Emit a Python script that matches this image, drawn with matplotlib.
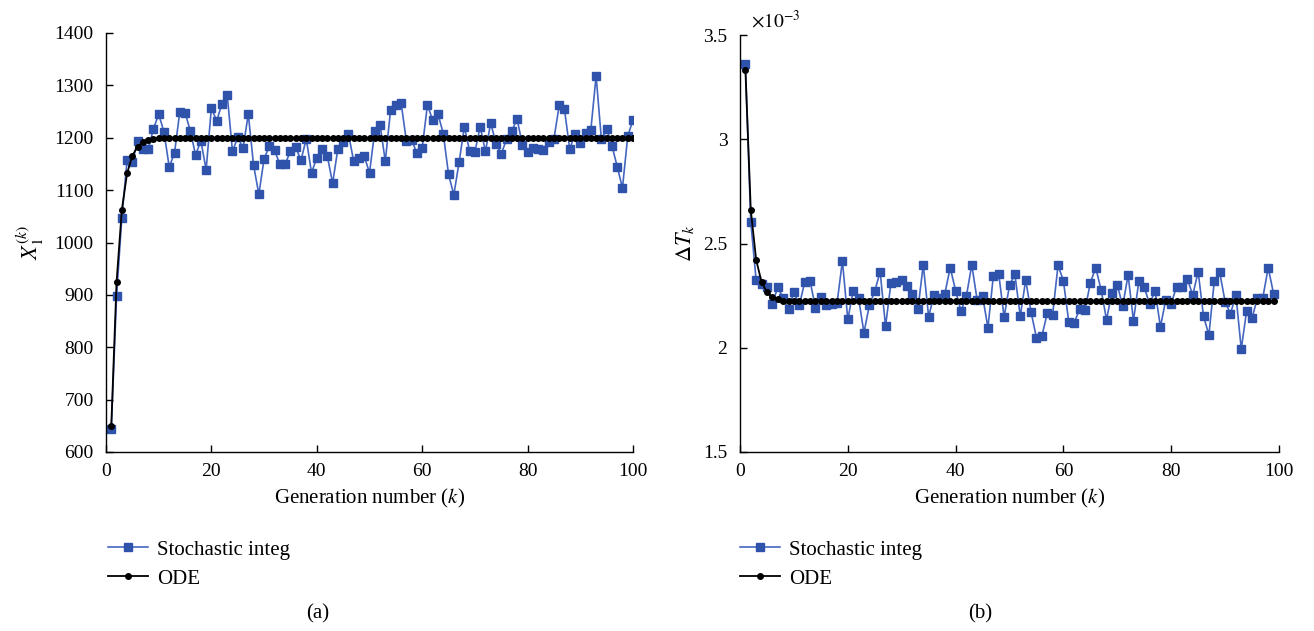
import matplotlib
matplotlib.use("Agg")
import matplotlib.pyplot as plt
from matplotlib.ticker import FuncFormatter, MultipleLocator
from matplotlib.lines import Line2D
import numpy as np

plt.rcParams['font.family'] = ['Liberation Serif', 'DejaVu Serif']
plt.rcParams['mathtext.fontset'] = 'stix'

# ---- Panel (a) data ----
gen_a = list(range(1, 101))
stoch_a = [643, 897, 1047, 1157, 1153, 1194, 1178, 1178, 1217, 1245,
           1211, 1144, 1171, 1249, 1248, 1213, 1167, 1194, 1139, 1257,
           1232, 1265, 1282, 1174, 1201, 1180, 1245, 1148, 1092, 1160,
           1184, 1176, 1149, 1149, 1175, 1182, 1157, 1198, 1133, 1162,
           1178, 1165, 1113, 1179, 1191, 1208, 1155, 1161, 1165, 1133,
           1213, 1225, 1155, 1253, 1263, 1266, 1194, 1196, 1170, 1181,
           1263, 1233, 1245, 1208, 1130, 1091, 1153, 1221, 1174, 1173,
           1221, 1174, 1228, 1189, 1169, 1197, 1213, 1236, 1187, 1172,
           1180, 1178, 1177, 1192, 1198, 1262, 1254, 1178, 1208, 1190,
           1210, 1215, 1318, 1197, 1217, 1185, 1145, 1104, 1203, 1234]
ode_a = [649, 924, 1062, 1132, 1166, 1183, 1191, 1195, 1198, 1199] + [1200] * 90

# ---- Panel (b) data (x 1e-3) ----
gen_b = list(range(1, 100))
stoch_b = [3.362, 2.603, 2.323, 2.304, 2.290, 2.210, 2.290, 2.239, 2.186, 2.267,
           2.204, 2.314, 2.320, 2.192, 2.245, 2.204, 2.208, 2.213, 2.416, 2.136,
           2.272, 2.237, 2.072, 2.204, 2.271, 2.365, 2.103, 2.309, 2.317, 2.323,
           2.298, 2.256, 2.184, 2.397, 2.149, 2.253, 2.237, 2.259, 2.384, 2.274,
           2.175, 2.247, 2.398, 2.229, 2.248, 2.096, 2.344, 2.354, 2.147, 2.300,
           2.352, 2.151, 2.325, 2.171, 2.048, 2.055, 2.165, 2.159, 2.395, 2.322,
           2.123, 2.120, 2.184, 2.180, 2.312, 2.384, 2.277, 2.135, 2.264, 2.302,
           2.200, 2.349, 2.130, 2.320, 2.291, 2.208, 2.274, 2.100, 2.231, 2.212,
           2.293, 2.293, 2.331, 2.252, 2.365, 2.151, 2.061, 2.322, 2.362, 2.221,
           2.163, 2.253, 1.994, 2.178, 2.143, 2.239, 2.240, 2.384, 2.258]
ode_b = [3.334, 2.661, 2.421, 2.315, 2.267, 2.243, 2.232, 2.226, 2.224, 2.223] + [2.222] * 89
stoch_b = [v * 1e-3 for v in stoch_b]
ode_b = [v * 1e-3 for v in ode_b]

BLUE = '#2f52aa'
BLUE_LINE = '#4466c0'
TICK_FS = 14
LAB_FS = 15

fig = plt.figure(figsize=(13.14, 6.31), dpi=100)
axA = fig.add_axes([106/1314, (631-452)/631, 527/1314, 419/631])
axB = fig.add_axes([740/1314, (631-452)/631, 539/1314, 417/631])

def style(ax):
    for s in ['top', 'right']:
        ax.spines[s].set_visible(False)
    ax.tick_params(direction='in', length=5, width=1, labelsize=TICK_FS)
    ax.tick_params(axis='y', pad=9)
    ax.tick_params(axis='x', pad=8)
    ax.spines['left'].set_linewidth(1.0)
    ax.spines['bottom'].set_linewidth(1.0)

def draw(ax, x, s, o):
    ax.plot(x, s, color=BLUE_LINE, lw=1.2, marker='s', ms=5.5,
            mfc=BLUE, mec=BLUE, zorder=2)
    ax.plot(x, o, color='black', lw=1.3, marker='o', ms=4,
            mfc='black', mec='black', zorder=3)

draw(axA, gen_a, stoch_a, ode_a)
style(axA)
axA.set_xlim(0, 100)
axA.set_ylim(600, 1400)
axA.xaxis.set_major_locator(MultipleLocator(20))
axA.yaxis.set_major_locator(MultipleLocator(100))
axA.set_xlabel(r'Generation number ($k$)', fontsize=LAB_FS, labelpad=5)
axA.set_ylabel(r'$X_1^{(k)}$', fontsize=LAB_FS + 1, labelpad=6)

draw(axB, gen_b, stoch_b, ode_b)
style(axB)
axB.set_xlim(0, 100)
axB.set_ylim(1.5e-3, 3.5e-3)
axB.xaxis.set_major_locator(MultipleLocator(20))
axB.yaxis.set_major_locator(MultipleLocator(0.5e-3))
axB.yaxis.set_major_formatter(FuncFormatter(lambda v, p: f"{v*1e3:g}"))
axB.set_xlabel(r'Generation number ($k$)', fontsize=LAB_FS, labelpad=5)
axB.set_ylabel(r'$\Delta T_k$', fontsize=LAB_FS + 1, labelpad=5)
axB.text(0.02, 1.008, r'$\times 10^{-3}$', transform=axB.transAxes,
         fontsize=TICK_FS, ha='left', va='bottom')

handles = [Line2D([], [], color=BLUE_LINE, lw=1.2, marker='s', ms=5.5, mfc=BLUE, mec=BLUE),
           Line2D([], [], color='black', lw=1.3, marker='o', ms=4, mfc='black', mec='black')]
labels = ['Stochastic integ', 'ODE']
for x0 in (108/1314, 740/1314):
    fig.legend(handles, labels, loc='upper left', bbox_to_anchor=(x0, 1 - 540/631),
               frameon=False, fontsize=LAB_FS, handlelength=1.9, labelspacing=0.45,
               handletextpad=0.45, borderaxespad=0, borderpad=0)

fig.text(318/1314, 1 - 614/631, '(a)', ha='center', va='center', fontsize=LAB_FS)
fig.text(980/1314, 1 - 614/631, '(b)', ha='center', va='center', fontsize=LAB_FS)

fig.savefig('out.png', dpi=100)
